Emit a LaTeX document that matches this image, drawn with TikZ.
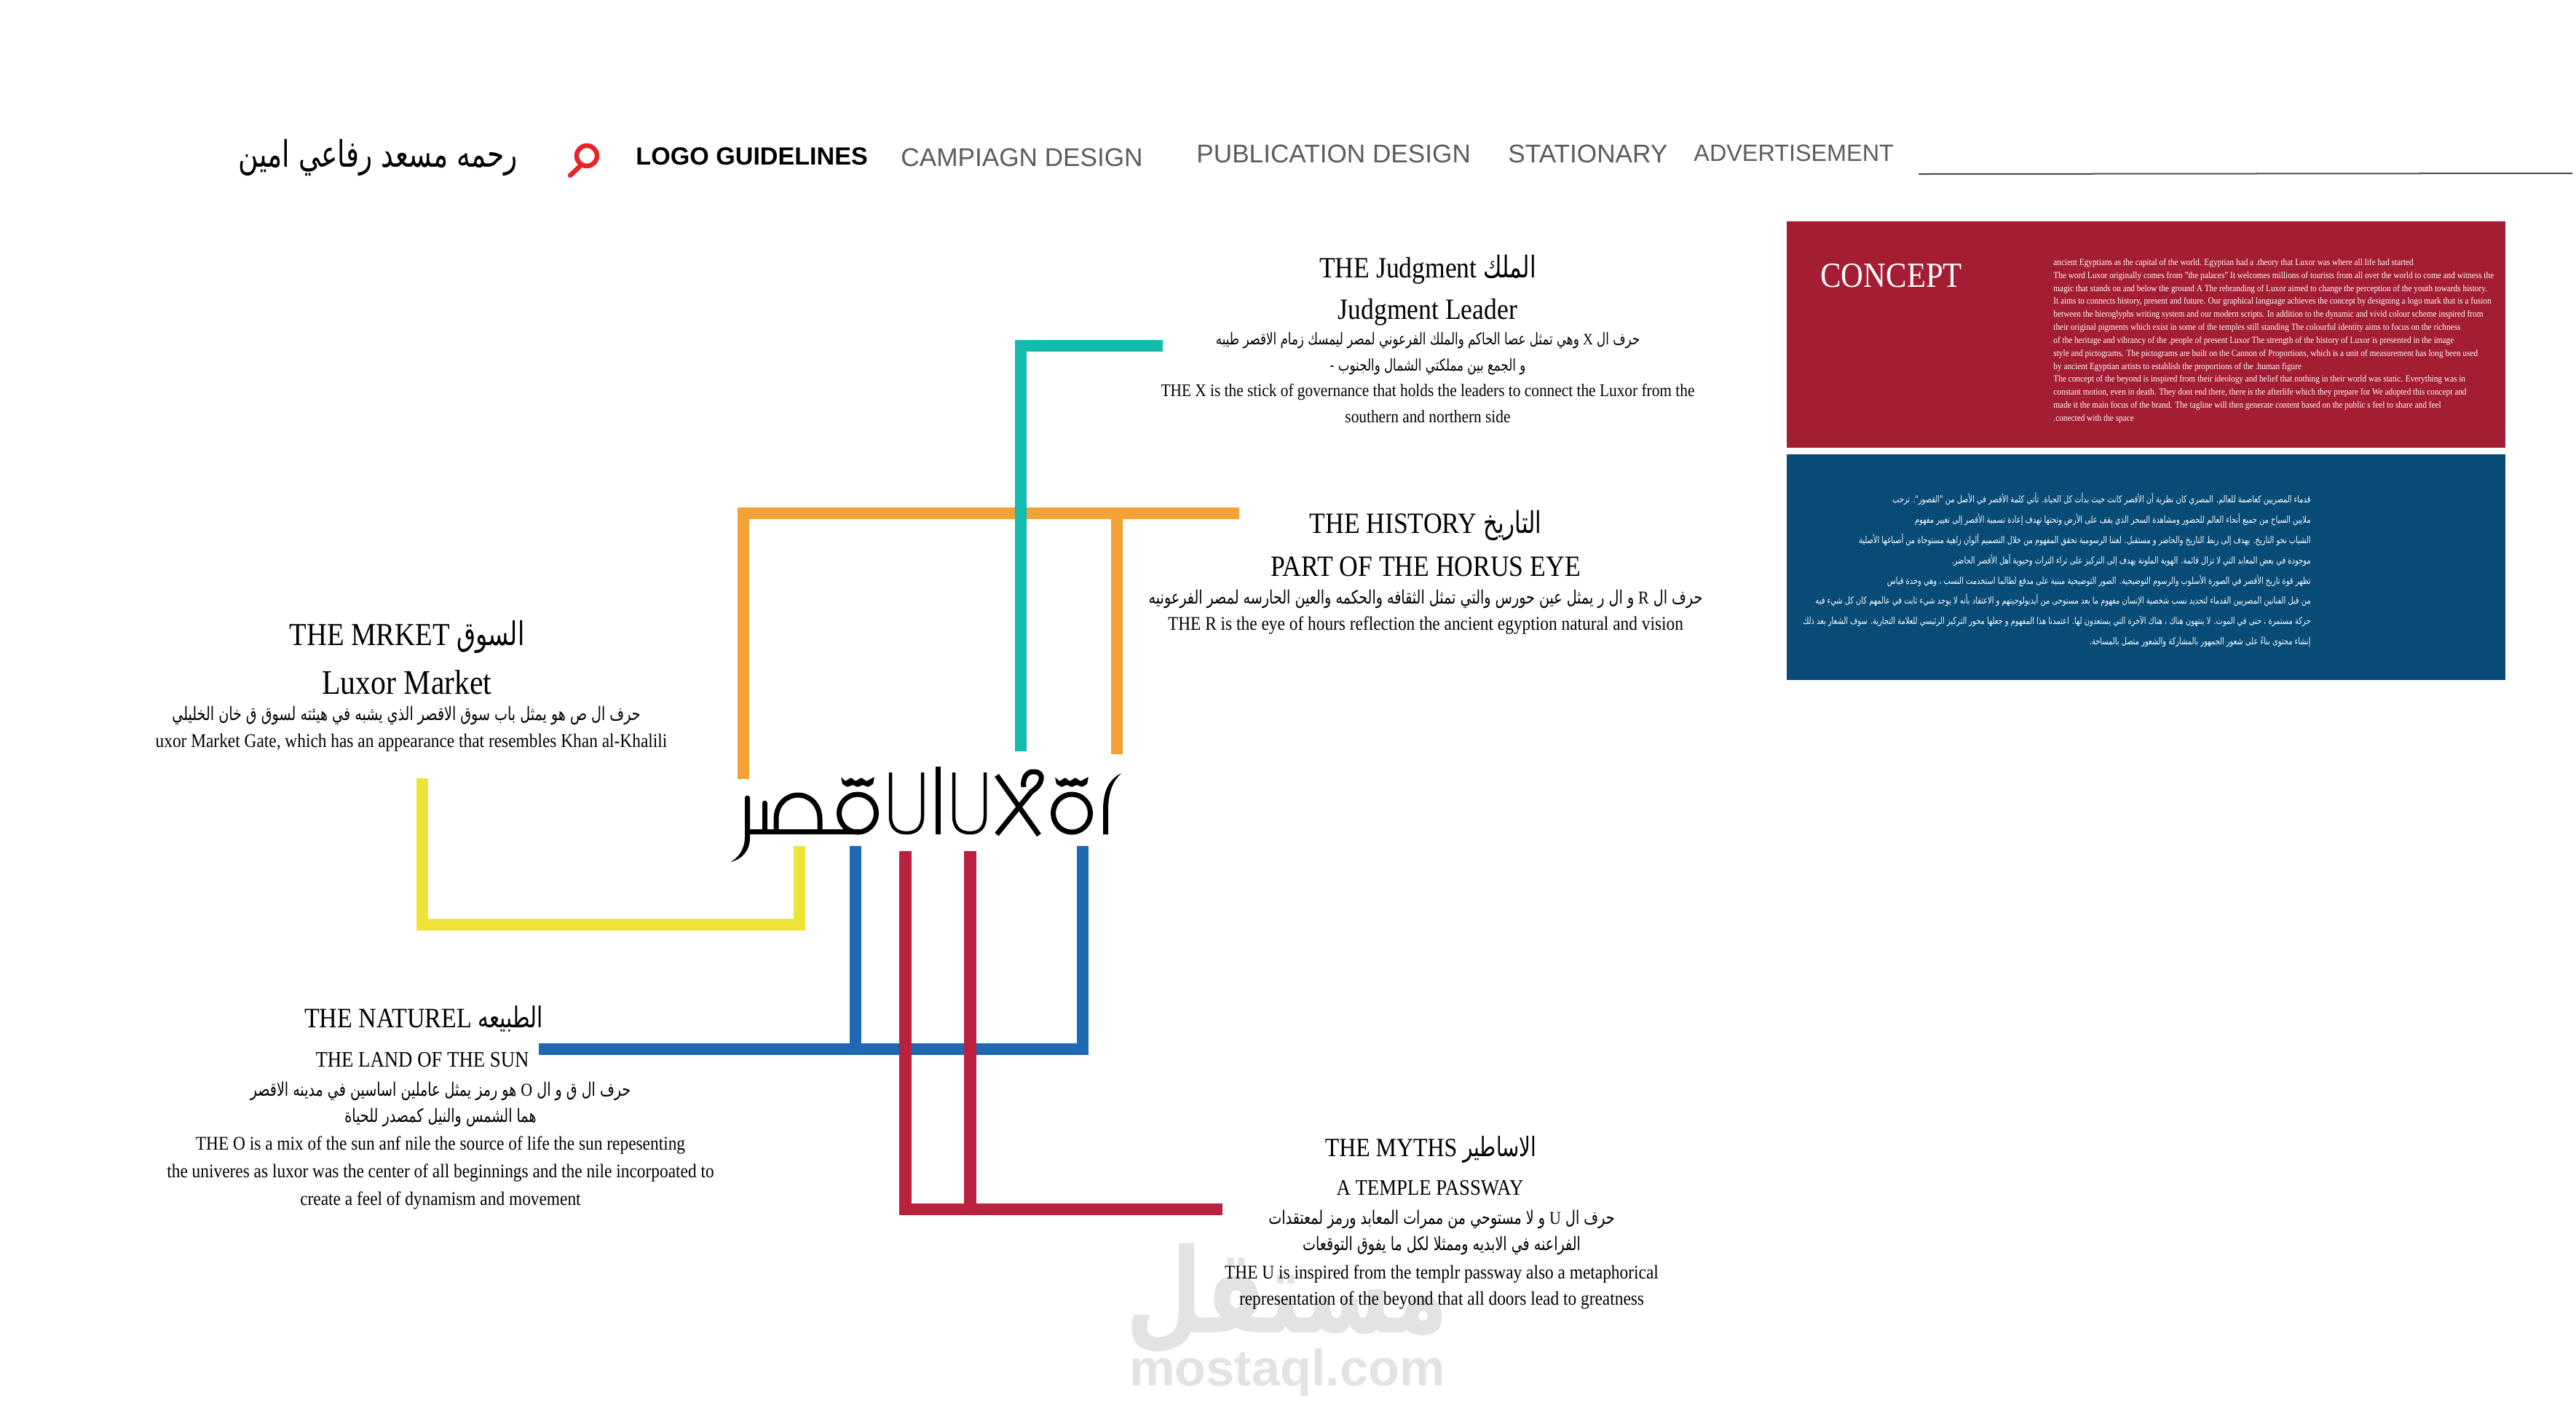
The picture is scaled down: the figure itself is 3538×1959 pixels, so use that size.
\documentclass[tikz,border=0pt]{standalone}
\usepackage{fontspec}
\usepackage{tikz}

\setmainfont[FakeStretch=0.88]{Liberation Serif}
\newfontfamily\arabicfont[Script=Arabic,FakeStretch=0.75,Scale=1.02]{DejaVu Sans}
\newfontfamily\navfont{Liberation Sans}
\TeXXeTstate=1

\newcommand{\artxt}[1]{{\arabicfont\beginR #1\endR}}
\newcommand{\ltrtxt}[1]{\beginL{\rmfamily #1}\endL}

\definecolor{linkteal}{HTML}{13BBAF}
\definecolor{linkorange}{HTML}{F2A236}
\definecolor{linkyellow}{HTML}{EDE437}
\definecolor{linkblue}{HTML}{1F68B2}
\definecolor{linkred}{HTML}{BA213F}
\definecolor{panelred}{HTML}{A31D33}
\definecolor{panelblue}{HTML}{084B76}
\definecolor{navgray}{HTML}{5C5C5C}
\definecolor{markgray}{HTML}{E3E3E3}
\definecolor{searchred}{HTML}{E8232A}

\begin{document}
\begin{tikzpicture}[x=0.01cm, y=-0.01cm,
    link/.style={line width=0.165cm, line join=miter},
    logoline/.style={line width=0.07cm},
    logothin/.style={line width=0.045cm},
    labelhead/.style={font=\fontsize{11.5}{13}\selectfont},
    labelsub/.style={font=\fontsize{8.65}{10}\selectfont},
    labelar/.style={align=center, font=\fontsize{7.1}{10.3}\selectfont},
    labelbody/.style={align=center, font=\fontsize{7.55}{10.3}\selectfont},
    navitem/.style={anchor=west, text=navgray, font=\navfont\fontsize{10}{12}\selectfont},
    paneltext/.style={text=white, align=left, anchor=north west}]

\useasboundingbox (0,0) rectangle (3538,1959);
\fill[white] (0,0) rectangle (3538,1959);

% watermark
\node (markar) [text=markgray, font=\arabicfont\bfseries\fontsize{45}{45}\selectfont] at (1768,1784) {\artxt{مستقل}};
\node (markurl) [text=markgray, font=\navfont\bfseries\fontsize{20}{20}\selectfont] at (1768,1885) {mostaql.com};

% top bar
\node (author) [font=\fontsize{14}{16}\selectfont] at (519,217) {\artxt{رحمه مسعد رفاعي امين}};
\draw[color=searchred, line width=0.065cm] (806,214) circle (14);
\draw[color=searchred, line width=0.065cm, line cap=round] (798,227) -- (783,241);
\node (navlogo) [anchor=west, font=\navfont\bfseries\fontsize{9.7}{12}\selectfont] at (861,215) {LOGO GUIDELINES};
\node (navcampaign) [navitem] at (1225,216) {CAMPIAGN DESIGN};
\node (navpublication) [navitem] at (1631,211) {PUBLICATION DESIGN};
\node (navstationary) [navitem] at (2059,211) {STATIONARY};
\node (navadvert) [navitem, font=\navfont\fontsize{9.2}{12}\selectfont] at (2314,210) {ADVERTISEMENT};
\coordinate (ruleleft) at (2635,239);
\coordinate (ruleright) at (3533,238);
\draw[line width=0.02cm, color=black!70] (ruleleft) -- (ruleright);

% panels
\fill[panelred] (2454,304) rectangle (3441,615);
\fill[panelblue] (2454,624) rectangle (3441,934);
\node (concept) [anchor=west, text=white, font=\fontsize{13.8}{16}\selectfont] at (2488,379) {CONCEPT};
\node (concepten) [paneltext, font=\fontsize{3.65}{5.07}\selectfont] at (2808,343) {ancient Egyptians as the capital of the world. Egyptian had a .theory that Luxor was where all life had started\\
The word Luxor originally comes from "the palaces"  It welcomes millions of tourists from all over the world to come and witness the\\
magic that stands on and below the ground A The rebranding of Luxor aimed to change the perception of the youth towards history.\\
It aims to connects history, present and future. Our graphical language achieves the concept by designing a logo mark that is a fusion\\
between the hieroglyphs writing  system and our modern scripts. In addition to the dynamic and vivid colour scheme inspired from\\
their original pigments which  exist in some of the temples still standing  The colourful identity aims to focus on the richness\\
of the heritage and vibrancy of the .people of present Luxor The strength of the history of Luxor is presented in the image\\
style and pictograms. The pictograms are built on the Cannon of Proportions, which is a unit of measurement has long been used\\
by ancient Egyptian artists to establish the proportions of the .human figure\\
The concept of the beyond is inspired from their ideology and belief that nothing in their world was static. Everything was in\\
constant motion, even in death. They dont end there, there is the afterlife which they prepare for We adopted this concept and\\
made it the main focus of the brand. The tagline will then generate content based on the public s feel to share and feel\\
.conected with the space};
\node (conceptar) [paneltext, align=right, anchor=north east, font=\fontsize{3.67}{7.9}\selectfont] at (3186,665) {\artxt{قدماء المصريين كعاصمة للعالم. المصري كان نظرية أن الأقصر كانت حيث بدأت كل الحياة. تأتي كلمة الأقصر في الأصل من "القصور". ترحب}\\
\artxt{ملايين السياح من جميع أنحاء العالم للحضور ومشاهدة  السحر الذي يقف على الأرض وتحتها  تهدف إعادة تسمية الأقصر إلى تغيير مفهوم}\\
\artxt{الشباب نحو التاريخ. يهدف إلى ربط التاريخ والحاضر و  مستقبل. لغتنا الرسومية تحقق المفهوم من خلال التصميم ألوان زاهية مستوحاة من أصباغها الأصلية}\\
\artxt{موجودة في بعض المعابد التي لا تزال قائمة. الهوية الملونة  يهدف إلى التركيز على ثراء التراث وحيوية  أهل الأقصر الحاضر.}\\
\artxt{تظهر قوة تاريخ الأقصر في الصورة  الأسلوب والرسوم التوضيحية. الصور التوضيحية مبنية على مدفع  لطالما استخدمت النسب ، وهي وحدة قياس}\\
\artxt{من قبل الفنانين المصريين القدماء لتحديد نسب  شخصية الإنسان  مفهوم ما بعد مستوحى من أيديولوجيتهم و الاعتقاد بأنه لا يوجد شيء ثابت في عالمهم  كان كل شيء فيه}\\
\artxt{حركة مستمرة ، حتى في الموت. لا ينتهون هناك ، هناك  الآخرة التي يستعدون لها. اعتمدنا هذا المفهوم و  جعلها محور التركيز الرئيسي للعلامة التجارية. سوف الشعار بعد ذلك}\\
\artxt{إنشاء محتوى بناءً على شعور الجمهور بالمشاركة والشعور متصل بالمساحة.}};

% labels
\node (judgmenthead) [labelhead] at (1961,370) {THE Judgment \artxt{الملك}};
\node (judgmentsub) [labelhead] at (1961,429) {Judgment Leader};
\node (judgmentar) [labelar, font=\fontsize{6.2}{10.3}\selectfont] at (1961,486) {\artxt{حرف ال \ltrtxt{X} وهي تمثل عصا الحاكم والملك الفرعوني لمصر ليمسك زمام الاقصر طيبه}\\ \artxt{و الجمع بين مملكتي الشمال والجنوب -}};
\node (judgmenten) [labelbody, font=\fontsize{6.9}{10.3}\selectfont] at (1961,554) {THE X is the stick of governance that holds the leaders to connect the Luxor from the\\ southern and northern side};

\node (historyhead) [labelhead] at (1958,722) {THE HISTORY \artxt{التاريخ}};
\node (historysub) [labelhead] at (1958,778) {PART OF THE HORUS EYE};
\node (historyar) [labelar] at (1958,823) {\artxt{حرف ال \ltrtxt{R} و ال ر يمثل عين حورس والتي تمثل الثقافه والحكمه والعين الحارسه لمصر الفرعونيه}};
\node (historyen) [labelbody] at (1958,859) {THE R is the eye of hours reflection the ancient egyption natural and vision};

\node (markethead) [labelhead, font=\fontsize{12.5}{14}\selectfont] at (559,875) {THE MRKET \artxt{السوق}};
\node (marketsub) [labelhead, font=\fontsize{13.5}{15}\selectfont] at (559,937) {Luxor Market};
\node (marketar) [labelar] at (558,983) {\artxt{حرف ال ص هو يمثل باب سوق الاقصر الذي يشبه في  هيئته لسوق ق خان الخليلي}};
\node (marketen) [labelbody] at (565,1020) {uxor Market Gate, which has an appearance that resembles Khan al-Khalili};

\node (naturehead) [labelhead, font=\fontsize{11}{13}\selectfont] at (582,1399) {THE NATUREL \artxt{الطبيعه}};
\node (naturesub) [labelsub] at (580,1456) {THE LAND OF THE SUN};
\node (naturear) [labelar] at (605,1517) {\artxt{حرف ال ق و ال \ltrtxt{O} هو رمز يمثل عاملين اساسين في مدينه الاقصر}\\ \artxt{هما الشمس والنيل كمصدر للحياة}};
\node (natureen) [labelbody, font=\fontsize{7.55}{10.7}\selectfont] at (605,1611) {THE O is a mix of the sun anf nile the source of life the sun repesenting\\ the univeres as luxor was the center of all beginnings and the nile incorpoated to\\ create a feel of dynamism and movement};

\node (mythshead) [labelhead, font=\fontsize{10.3}{12}\selectfont] at (1965,1579) {THE MYTHS \artxt{الاساطير}};
\node (mythssub) [labelsub] at (1964,1632) {A TEMPLE PASSWAY};
\node (mythsar) [labelar] at (1980,1693) {\artxt{حرف ال \ltrtxt{U} و لا مستوحي من ممرات المعابد ورمز لمعتقدات}\\ \artxt{الفراعنه في الابديه وممثلا لكل ما يفوق التوقعات}};
\node (mythsen) [labelbody] at (1980,1768) {THE U is inspired from the templr passway also a metaphorical\\ representation of the beyond that all doors lead to greatness};

% connectors
\coordinate (orangefoot) at (1021,1070);
\coordinate (orangeend) at (1702,705);
\coordinate (orangedrop) at (1534,1036);
\coordinate (orangerise) at (1534,705);
\draw[link, color=linkorange] (orangefoot) |- (orangeend);
\draw[link, color=linkorange] (orangedrop) -- (orangerise);

\coordinate (tealfoot) at (1402,1032);
\coordinate (tealend) at (1597,475);
\draw[link, color=linkteal] (tealfoot) |- (tealend);

\coordinate (yellowtop) at (580,1069);
\coordinate (yellowturn) at (1098,1270);
\coordinate (yellowhead) at (1098,1162);
\draw[link, color=linkyellow] (yellowtop) |- (yellowturn) -- (yellowhead);

\coordinate (blueend) at (740,1441);
\coordinate (bluehead) at (1487,1162);
\coordinate (bluetop) at (1175,1162);
\coordinate (bluejoin) at (1175,1441);
\draw[link, color=linkblue] (blueend) -| (bluehead);
\draw[link, color=linkblue] (bluetop) -- (bluejoin);

\coordinate (redtop) at (1243.5,1169);
\coordinate (redend) at (1679,1661);
\coordinate (redsecond) at (1332.5,1169);
\coordinate (redjoin) at (1332.5,1661);
\draw[link, color=linkred] (redtop) |- (redend);
\draw[link, color=linkred] (redsecond) -- (redjoin);

% logo
\fill (1023,1096) -- (1023,1150) .. controls (1023,1165) and (1015,1178) .. (1003,1184) .. controls (1020,1180) and (1030,1168) .. (1030,1150) -- (1030,1096) arc (0:-180:3.5) -- cycle;
\draw[logoline] (1026,1142) -- (1183,1142);
\draw[logoline, line cap=round] (1050,1103) -- (1050,1142);
\draw[logoline] (1066,1142) -- (1066,1125) .. controls (1066,1105) and (1080,1092) .. (1096,1092) .. controls (1112,1092) and (1126,1105) .. (1126,1125) -- (1126,1142);
\draw[logoline] (1178,1117) ellipse (25.5 and 26);
\draw[logoline] (1472,1117) ellipse (25.5 and 26);
\fill[shift={(1178,0)}, rounded corners=0.01cm] (-23,1067) -- (-17,1073) -- (-9,1068) -- (-3,1073) -- (5,1068) -- (12,1073) -- (23,1067) -- (21,1077) -- (14,1081) -- (7,1078) -- (0,1081) -- (-7,1078) -- (-14,1081) -- (-21,1077) -- cycle;
\fill[shift={(1472,0)}, rounded corners=0.01cm] (-23,1067) -- (-17,1073) -- (-9,1068) -- (-3,1073) -- (5,1068) -- (12,1073) -- (23,1067) -- (21,1077) -- (14,1081) -- (7,1078) -- (0,1081) -- (-7,1078) -- (-14,1081) -- (-21,1077) -- cycle;
\draw[logothin] (1223,1061) -- (1223,1121) .. controls (1223,1137) and (1232,1144) .. (1245,1144) .. controls (1258,1144) and (1267,1137) .. (1267,1121) -- (1267,1061);
\fill (1285,1053) rectangle (1292,1146);
\draw[logothin] (1310,1061) -- (1310,1121) .. controls (1310,1137) and (1319,1144) .. (1332,1144) .. controls (1345,1144) and (1353,1137) .. (1353,1121) -- (1353,1061);
\draw[logoline] (1369,1065) -- (1427,1147);
\draw[logoline] (1369,1146) -- (1417,1087) .. controls (1432,1078) and (1436,1060) .. (1420,1060) .. controls (1410,1059) and (1404,1070) .. (1406,1081);
\fill (1515,1146) -- (1515,1113) .. controls (1515,1085) and (1524,1070) .. (1540,1062) .. controls (1530,1072) and (1522,1085) .. (1522,1113) -- (1522,1146) -- cycle;

\end{tikzpicture}
\end{document}
